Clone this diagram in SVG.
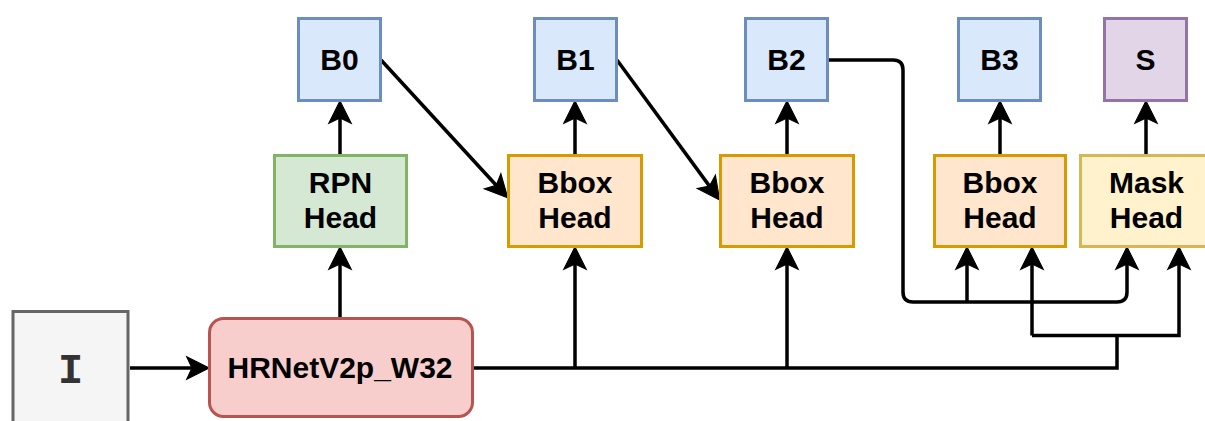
<svg xmlns="http://www.w3.org/2000/svg" width="1205" height="421" viewBox="0 0 1205 421">
<style>
.box{stroke-width:3}
.blue{fill:#dae8fc;stroke:#6c8ebf}
.green{fill:#d5e8d4;stroke:#82b366}
.orange{fill:#ffe6cc;stroke:#d79b00}
.red{fill:#f8cecc;stroke:#b85450}
.purple{fill:#e1d5e7;stroke:#9673a6}
.yellow{fill:#fff2cc;stroke:#d6b656}
.gray{fill:#f5f5f5;stroke:#666666}
.lbl{font-family:"Liberation Sans",Arial,Helvetica,sans-serif;font-weight:bold;font-size:30px;fill:#000;text-anchor:middle}
.mono{font-family:"Liberation Mono","Courier New",monospace;font-weight:bold;font-size:42px;fill:#333;text-anchor:middle}
.edge{fill:none;stroke:#000;stroke-width:3.5}
.arr{marker-end:url(#ah)}
</style>
<defs>
<marker id="ah" markerUnits="userSpaceOnUse" markerWidth="30" markerHeight="30" viewBox="-8 -13 28 26" refX="0" refY="0" orient="auto" overflow="visible">
<path d="M16,0 L-5,-10.5 L0,0 L-5,10.5 Z" fill="#000" stroke="#000" stroke-width="1"/>
</marker>
</defs>

<g id="connectors">
<path class="edge arr" d="M130,368 H192"/>
<path class="edge arr" d="M340,318 V264"/>
<path class="edge arr" d="M340,155 V118"/>
<path class="edge arr" d="M381,60 L496.2,185.2"/>
<path class="edge arr" d="M575,155 V118"/>
<path class="edge" d="M474,368 H1117 V335.5"/>
<path class="edge arr" d="M575,368 V264"/>
<path class="edge arr" d="M617,60 L709.5,186.1"/>
<path class="edge arr" d="M787,155 V118"/>
<path class="edge arr" d="M787,368 V264"/>
<path class="edge arr" d="M829,60 H893 Q903,60 903,70 V292 Q903,302 913,302 H1117 Q1127,302 1127,292 V264"/>
<path class="edge arr" d="M967,302 V264"/>
<path class="edge arr" d="M1032,335.5 V264"/>
<path class="edge arr" d="M1032,335.5 H1179 V264"/>
<path class="edge arr" d="M1000,155 V118"/>
<path class="edge arr" d="M1146,155 V118"/>
</g>

<g id="node-I">
<rect class="box gray" x="13" y="311.5" width="115" height="130"/>
<text class="mono" x="70.5" y="383">I</text>
</g>
<g id="node-HRNet">
<rect class="box red" x="209.5" y="318.5" width="263" height="98" rx="14" ry="14"/>
<text class="lbl" x="340" y="378">HRNetV2p_W32</text>
</g>
<g id="node-RPN">
<rect class="box green" x="274.5" y="155.5" width="132" height="91"/>
<text class="lbl" x="340.5" y="193">RPN</text>
<text class="lbl" x="340.5" y="228">Head</text>
</g>
<g id="node-B0">
<rect class="box blue" x="298.5" y="18.5" width="82" height="82"/>
<text class="lbl" x="339.5" y="70">B0</text>
</g>
<g id="node-Bbox1">
<rect class="box orange" x="508.5" y="155.5" width="133" height="91"/>
<text class="lbl" x="575" y="193">Bbox</text>
<text class="lbl" x="575" y="228">Head</text>
</g>
<g id="node-B1">
<rect class="box blue" x="534.5" y="18.5" width="82" height="82"/>
<text class="lbl" x="575.5" y="70">B1</text>
</g>
<g id="node-Bbox2">
<rect class="box orange" x="720.5" y="155.5" width="133" height="91"/>
<text class="lbl" x="787" y="193">Bbox</text>
<text class="lbl" x="787" y="228">Head</text>
</g>
<g id="node-B2">
<rect class="box blue" x="745.5" y="18.5" width="82" height="82"/>
<text class="lbl" x="786.5" y="70">B2</text>
</g>
<g id="node-Bbox3">
<rect class="box orange" x="934.5" y="155.5" width="131" height="91"/>
<text class="lbl" x="1000" y="193">Bbox</text>
<text class="lbl" x="1000" y="228">Head</text>
</g>
<g id="node-B3">
<rect class="box blue" x="958.5" y="18.5" width="82" height="82"/>
<text class="lbl" x="999.5" y="70">B3</text>
</g>
<g id="node-Mask">
<rect class="box yellow" x="1080.5" y="155.5" width="132" height="91"/>
<text class="lbl" x="1146.5" y="193">Mask</text>
<text class="lbl" x="1146.5" y="228">Head</text>
</g>
<g id="node-S">
<rect class="box purple" x="1104.5" y="18.5" width="82" height="82"/>
<text class="lbl" x="1145.5" y="70">S</text>
</g>
</svg>
